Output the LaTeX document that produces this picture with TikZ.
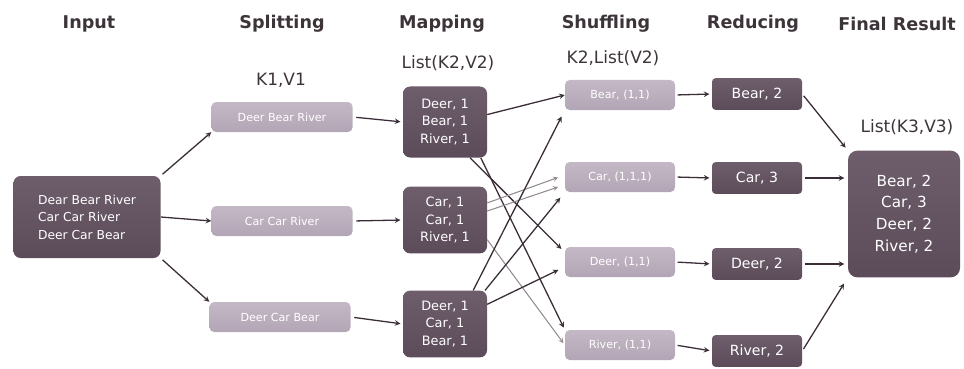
\documentclass[tikz,border=0pt]{standalone}
\usepackage{fontspec}
\setmainfont{DejaVu Sans}
\usepackage{xcolor}
\usetikzlibrary{arrows, positioning}
\definecolor{boxdark}{HTML}{5C4C5A}
\definecolor{boxdarktop}{HTML}{6E5E6C}
\definecolor{boxlight}{HTML}{B2A5B5}
\definecolor{boxlighttop}{HTML}{C4B8C6}
\definecolor{ink}{HTML}{3A2D38}
\definecolor{headink}{HTML}{3C3439}

\begin{document}
\begin{tikzpicture}[x=0.03cm, y=-0.03cm,
		dark/.style={rectangle, rounded corners=6pt, top color=boxdarktop, bottom color=boxdark, text=white, align=center, inner sep=2pt},
		light/.style={rectangle, rounded corners=4pt, top color=boxlighttop, bottom color=boxlight, text=white, align=center, inner sep=2pt, minimum height=0.9cm, font=\fontsize{9.5}{11}\selectfont},
		head/.style={text=headink, font=\fontsize{15}{17}\selectfont\bfseries},
		lbl/.style={text=headink, font=\fontsize{14.5}{16}\selectfont},
		arr/.style={->, >=stealth, line width=1.1pt, draw=ink},
		farr/.style={->, >=stealth, line width=0.9pt, draw=ink!55}]

		\useasboundingbox (0,0) rectangle (964,368);

		% column titles
		\node (hin) [head] at (89,24) {Input};
		\node (hsplit) [head] at (282,24) {Splitting};
		\node (hmap) [head] at (442,24) {Mapping};
		\node (hshuf) [head] at (606,24) {Shuffling};
		\node (hred) [head] at (753,24) {Reducing};
		\node (hfin) [head] at (897,24) {Final Result};

		% input
		\node (in) [dark, minimum width=4.41cm, minimum height=2.46cm, align=left, font=\fontsize{10.5}{15}\selectfont] at (87,217) {Dear Bear River\\Car Car River\\Deer Car Bear};

		% splitting
		\node (k1) [lbl] at (281,80) {K1,V1};
		\node (s1) [light, minimum width=4.23cm] at (282,117) {Deer Bear River};
		\node (s2) [light, minimum width=4.23cm] at (282,221) {Car Car River};
		\node (s3) [light, minimum width=4.23cm] at (280,317) {Deer Car Bear};

		% mapping
		\node (k2) [lbl] at (448,63) {List(K2,V2)};
		\node (m1) [dark, minimum width=2.52cm, minimum height=2.13cm, font=\fontsize{11}{15}\selectfont] at (445,122) {Deer, 1\\Bear, 1\\River, 1};
		\node (m2) [dark, minimum width=2.52cm, minimum height=2.0cm, font=\fontsize{11}{15}\selectfont] at (445,220) {Car, 1\\Car, 1\\River, 1};
		\node (m3) [dark, minimum width=2.52cm, minimum height=2.0cm, font=\fontsize{11}{15}\selectfont] at (445,324) {Deer, 1\\Car, 1\\Bear, 1};

		% shuffling
		\node (k2l) [lbl] at (613,58) {K2,List(V2)};
		\node (sh1) [light, minimum width=3.3cm] at (620,95) {Bear, (1,1)};
		\node (sh2) [light, minimum width=3.3cm] at (620,177) {Car, (1,1,1)};
		\node (sh3) [light, minimum width=3.3cm] at (620,262) {Deer, (1,1)};
		\node (sh4) [light, minimum width=3.3cm] at (620,345) {River, (1,1)};

		% reducing
		\node (r1) [dark, rounded corners=3pt, minimum width=2.7cm, minimum height=0.95cm, font=\fontsize{12}{13}\selectfont] at (757,94) {Bear, 2};
		\node (r2) [dark, rounded corners=3pt, minimum width=2.7cm, minimum height=0.95cm, font=\fontsize{12}{13}\selectfont] at (757,178) {Car, 3};
		\node (r3) [dark, rounded corners=3pt, minimum width=2.7cm, minimum height=0.95cm, font=\fontsize{12}{13}\selectfont] at (757,264) {Deer, 2};
		\node (r4) [dark, rounded corners=3pt, minimum width=2.7cm, minimum height=0.95cm, font=\fontsize{12}{13}\selectfont] at (757,351) {River, 2};

		% final result
		\node (k3) [lbl] at (907,127) {List(K3,V3)};
		\node (fin) [dark, rounded corners=8pt, minimum width=3.36cm, minimum height=3.8cm, font=\fontsize{13}{18.5}\selectfont] at (904,214) {Bear, 2\\Car, 3\\Deer, 2\\River, 2};

		% input -> splitting
		\draw[arr, shorten <=2pt] (in.north east) -- (s1.south west);
		\draw[arr] (in.east) -- (s2.west);
		\draw[arr, shorten <=2pt] (in.south east) -- (s3.north west);

		% splitting -> mapping
		\draw[arr, shorten <=3pt, shorten >=2pt] (s1.east) -- (m1.west);
		\draw[arr, shorten <=3pt, shorten >=2pt] (s2.east) -- (m2.west);
		\draw[arr, shorten <=3pt, shorten >=2pt] (s3.east) -- (m3.west);

		% mapping -> shuffling
		\draw[arr] (m1.10) -- (sh1.west);
		\draw[arr, shorten >=4pt] (m1.-55) -- (sh3.170);
		\draw[arr, shorten >=2pt] (m1.-45) -- (sh4.north west);
		\draw[farr, shorten >=6pt] (m2.22) -- (sh2.178);
		\draw[farr, shorten >=6pt] (m2.12) -- (sh2.188);
		\draw[farr, shorten >=2pt] (m2.-25) -- (sh4.180);
		\draw[arr, shorten >=6pt] (m3.50) -- (sh1.south west);
		\draw[arr, shorten >=6pt] (m3.40) -- (sh2.south west);
		\draw[arr, shorten >=6pt] (m3.25) -- (sh3.185);

		% shuffling -> reducing
		\draw[arr, shorten <=2pt, shorten >=2pt] (sh1.east) -- (r1.west);
		\draw[arr, shorten <=2pt, shorten >=2pt] (sh2.east) -- (r2.west);
		\draw[arr, shorten <=2pt, shorten >=2pt] (sh3.east) -- (r3.west);
		\draw[arr, shorten <=2pt, shorten >=2pt] (sh4.east) -- (r4.west);

		% reducing -> final result
		\draw[arr, shorten <=2pt, shorten >=3pt] (r1.east) -- (fin.north west);
		\draw[arr, shorten <=2pt, shorten >=3pt] (r2.east) -- (r2.east -| fin.west);
		\draw[arr, shorten <=2pt, shorten >=3pt] (r3.east) -- (r3.east -| fin.west);
		\draw[arr, shorten <=2pt, shorten >=6pt] (r4.east) -- (fin.south west);
	\end{tikzpicture}
\end{document}
